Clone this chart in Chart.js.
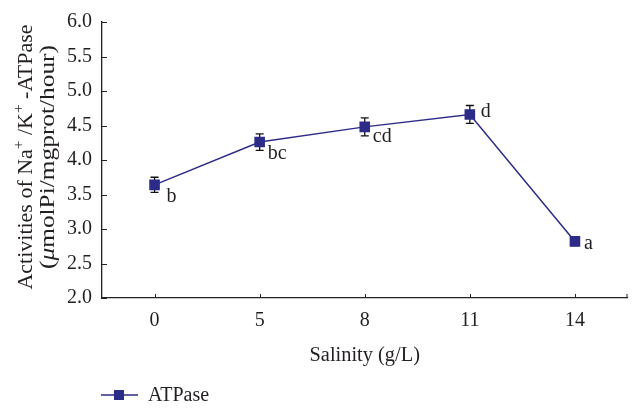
<!DOCTYPE html>
<html>
<head>
<meta charset="utf-8">
<script src="https://cdn.jsdelivr.net/npm/chart.js@4/dist/chart.umd.min.js"></script>
<style>
html,body{margin:0;padding:0;background:#fff;}
#wrap{width:635px;height:408px;position:relative;}
</style>
</head>
<body>
<div id="wrap"><canvas id="c" width="635" height="408"></canvas></div>
<script>
// ---- data ----
const salinity = ['0', '5', '8', '11', '14'];
const atpase = [3.64, 4.26, 4.48, 4.66, 2.82];
const atpaseErr = [0.11, 0.12, 0.13, 0.13, 0.06];
const letters = ['b', 'bc', 'cd', 'd', 'a'];
const yTicks = [2.0, 2.5, 3.0, 3.5, 4.0, 4.5, 5.0, 5.5, 6.0];
const seriesName = 'ATPase';
const xTitle = 'Salinity (g/L)';

// ---- style ----
const FONT = '"Liberation Serif", "Times New Roman", serif';
const NAVY = '#2c2b87';
const TXT = '#231f20';
const letterOffsets = [[12, 12], [8, 12], [8, 10], [11, -3], [9, 2]];

const overlay = {
  id: 'overlay',
  beforeDatasetsDraw(chart) {
    const ctx = chart.ctx, x = chart.scales.x, y = chart.scales.y;
    ctx.save();
    ctx.strokeStyle = '#111';
    ctx.lineWidth = 1.3;
    atpase.forEach((v, i) => {
      const px = x.getPixelForValue(i);
      const top = y.getPixelForValue(v + atpaseErr[i]);
      const bot = y.getPixelForValue(v - atpaseErr[i]);
      ctx.beginPath();
      ctx.moveTo(px, top); ctx.lineTo(px, bot);
      ctx.moveTo(px - 4, top); ctx.lineTo(px + 4, top);
      ctx.moveTo(px - 4, bot); ctx.lineTo(px + 4, bot);
      ctx.stroke();
    });
    ctx.restore();
  },
  afterDraw(chart) {
    const ctx = chart.ctx, x = chart.scales.x, y = chart.scales.y, ca = chart.chartArea;
    ctx.save();
    // axis ticks pointing inward
    ctx.strokeStyle = '#222';
    ctx.lineWidth = 1;
    ctx.beginPath();
    yTicks.forEach(t => {
      const py = Math.round(y.getPixelForValue(t)) + 0.5;
      ctx.moveTo(ca.left, py); ctx.lineTo(ca.left + 5, py);
    });
    salinity.forEach((s, i) => {
      const px = Math.round(x.getPixelForValue(i)) + 0.5;
      ctx.moveTo(px, ca.bottom); ctx.lineTo(px, ca.bottom - 4);
    });
    ctx.moveTo(ca.right - 0.5, ca.bottom); ctx.lineTo(ca.right - 0.5, ca.bottom - 4);
    ctx.stroke();

    // letters
    ctx.fillStyle = TXT;
    ctx.font = '20px ' + FONT;
    ctx.textBaseline = 'middle';
    ctx.textAlign = 'left';
    letters.forEach((l, i) => {
      const px = x.getPixelForValue(i), py = y.getPixelForValue(atpase[i]);
      ctx.fillText(l, px + letterOffsets[i][0], py + letterOffsets[i][1]);
    });

    // x title
    ctx.textAlign = 'center';
    ctx.font = '20px ' + FONT;
    ctx.save();
    ctx.translate((ca.left + ca.right) / 2, 356);
    ctx.scale(1.02, 1);
    ctx.fillText(xTitle, 0, 0);
    ctx.restore();

    // y title (rotated, two lines)
    const cy = 157;
    function drawRuns(runs, cx, targetW) {
      ctx.save();
      ctx.translate(cx, cy);
      ctx.rotate(-Math.PI / 2);
      ctx.textAlign = 'left';
      ctx.textBaseline = 'middle';
      let w = 0;
      runs.forEach(r => { ctx.font = r.f; w += ctx.measureText(r.t).width; });
      ctx.scale(targetW / w, 1);
      let pos = -w / 2;
      runs.forEach(r => {
        ctx.font = r.f;
        ctx.fillText(r.t, pos, r.dy || 0);
        pos += ctx.measureText(r.t).width;
      });
      ctx.restore();
    }
    const nf = '20px ' + FONT, sf = '14px ' + FONT, itf = 'italic 20px ' + FONT;
    drawRuns([
      {t: 'Activities of Na', f: nf},
      {t: '+', f: sf, dy: -8},
      {t: ' /K', f: nf},
      {t: '+', f: sf, dy: -8},
      {t: ' -ATPase', f: nf}
    ], 27, 265);
    drawRuns([
      {t: '(', f: nf},
      {t: 'μ', f: itf},
      {t: 'molPi/mgprot/hour)', f: nf}
    ], 49, 224);

    // legend
    const ly = 395;
    ctx.strokeStyle = NAVY;
    ctx.lineWidth = 1.5;
    ctx.beginPath(); ctx.moveTo(101, ly); ctx.lineTo(138, ly); ctx.stroke();
    ctx.fillStyle = NAVY;
    ctx.fillRect(114, ly - 5, 10, 10);
    ctx.fillStyle = TXT;
    ctx.font = '20px ' + FONT;
    ctx.textAlign = 'left';
    ctx.textBaseline = 'middle';
    ctx.fillText(seriesName, 148, ly + 1);
    ctx.restore();
  }
};

new Chart(document.getElementById('c'), {
  type: 'line',
  data: {
    labels: salinity,
    datasets: [{
      label: seriesName,
      data: atpase,
      borderColor: NAVY,
      borderWidth: 1.5,
      backgroundColor: NAVY,
      pointStyle: 'rect',
      pointRadius: 7.5,
      pointBorderWidth: 0,
      pointBackgroundColor: NAVY,
      tension: 0
    }]
  },
  options: {
    responsive: false,
    animation: false,
    events: [],
    layout: {padding: {top: 16, right: 4, left: 0, bottom: 0}},
    plugins: {legend: {display: false}, tooltip: {enabled: false}},
    scales: {
      x: {
        offset: true,
        grid: {display: true, drawOnChartArea: false, drawTicks: false, offset: false},
        border: {display: true, color: '#222', width: 1.3},
        ticks: {padding: 11, color: TXT, font: {family: FONT, size: 20}},
        afterFit(s) { s.height = 110; }
      },
      y: {
        min: 2, max: 6,
        afterBuildTicks(s) { s.ticks = yTicks.map(v => ({value: v})); },
        grid: {display: true, drawOnChartArea: false, drawTicks: false},
        border: {display: true, color: '#222', width: 1.3},
        ticks: {padding: 10, color: TXT, font: {family: FONT, size: 20},
          callback: v => Number(v).toFixed(1)},
        afterFit(s) { s.width = 102; }
      }
    }
  },
  plugins: [overlay]
});
</script>
</body>
</html>
